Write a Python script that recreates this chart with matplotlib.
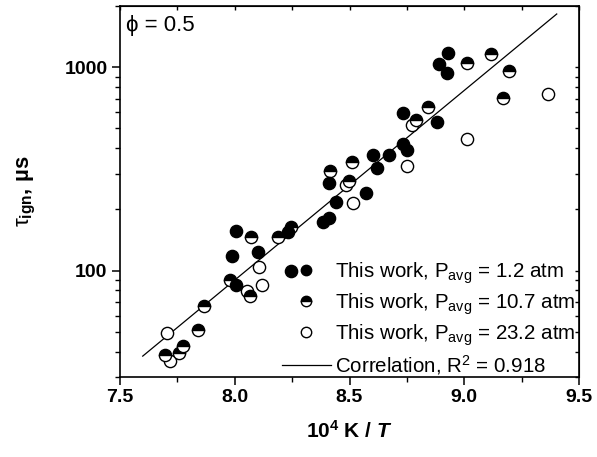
import matplotlib
matplotlib.use("Agg")
import matplotlib.pyplot as plt
from matplotlib.ticker import MultipleLocator, LogLocator, NullFormatter
from matplotlib.lines import Line2D

plt.rcParams["font.family"] = ["Liberation Sans", "DejaVu Sans"]
plt.rcParams["mathtext.fontset"] = "custom"
plt.rcParams["mathtext.rm"] = "Liberation Sans"
plt.rcParams["mathtext.it"] = "Liberation Sans:italic"
plt.rcParams["mathtext.bf"] = "Liberation Sans:bold"
plt.rcParams["mathtext.bfit"] = "Liberation Sans:bold:italic"

# ignition delay data, 10^4 K / T vs tau_ign (us)
x_p1 = [8.930, 8.890, 8.924, 8.734, 8.883, 8.734, 8.749, 8.673, 8.604, 8.621, 8.412,
        8.572, 8.441, 8.385, 8.411, 8.230, 8.005, 7.988, 8.103, 8.245, 8.007]
t_p1 = [1171, 1038, 934, 599, 539, 420, 393, 370, 371, 319, 270,
        241, 218, 174, 181, 155, 156, 118.5, 123, 100, 85.4]

x_p10 = [9.011, 9.118, 9.194, 9.168, 8.843, 8.790, 8.510, 8.415, 8.496, 8.245,
         8.190, 8.071, 7.979, 8.066, 7.867, 7.841, 7.776, 7.758, 7.696]
t_p10 = [1053, 1162, 956, 707, 641, 551, 344, 310, 277, 164,
         146, 146, 89.6, 74.8, 67.3, 50.9, 42.5, 39.3, 38.3]

x_p23 = [9.366, 9.011, 8.749, 8.771, 8.485, 8.517, 8.106, 8.117, 8.052, 7.703, 7.718]
t_p23 = [739, 443, 328, 521, 264, 216, 104, 84.9, 79.1, 49.1, 35.9]

# correlation line end points
x_fit = [7.599, 9.403]
t_fit = [38.0, 1827]

labels = ["This work, P$_{\\mathregular{avg}}$ = 1.2 atm",
          "This work, P$_{\\mathregular{avg}}$ = 10.7 atm",
          "This work, P$_{\\mathregular{avg}}$ = 23.2 atm",
          "Correlation, R$^{\\mathregular{2}}$ = 0.918"]

fig = plt.figure(figsize=(5.97, 4.57), dpi=100)
ax = fig.add_axes([120 / 597, 80 / 457, 459 / 597, 371 / 457])

ms = 8.8
ax.plot(x_fit, t_fit, color="black", lw=0.9, zorder=2)
ax.plot(x_p23, t_p23, ls="none", marker="o", ms=ms, mfc="white", mec="black", mew=1.0, zorder=3)
ax.plot(x_p10, t_p10, ls="none", marker="o", ms=ms, fillstyle="top", mfc="black",
        markerfacecoloralt="white", mec="black", mew=1.0, zorder=3)
ax.plot(x_p1, t_p1, ls="none", marker="o", ms=ms, mfc="black", mec="black", mew=1.0, zorder=3)

ax.set_yscale("log")
ax.set_xlim(7.5, 9.5)
ax.set_ylim(30, 2000)
ax.xaxis.set_major_locator(MultipleLocator(0.5))
ax.xaxis.set_minor_locator(MultipleLocator(0.25))
ax.xaxis.set_major_formatter(matplotlib.ticker.FormatStrFormatter("%.1f"))
ax.yaxis.set_major_locator(LogLocator(base=10, numticks=10))
ax.yaxis.set_minor_locator(LogLocator(base=10, subs=range(2, 10), numticks=20))
ax.yaxis.set_minor_formatter(NullFormatter())
ax.yaxis.set_major_formatter(matplotlib.ticker.FuncFormatter(lambda v, p: f"{v:.0f}"))

for s in ax.spines.values():
    s.set_linewidth(1.2)
ax.tick_params(which="major", direction="out", length=6, width=1.1, labelsize=14, pad=3)
ax.tick_params(which="minor", direction="out", length=3.5, width=1.0)
for lab in ax.get_xticklabels() + ax.get_yticklabels():
    lab.set_fontweight("bold")

top = ax.secondary_xaxis("top")
top.xaxis.set_major_locator(MultipleLocator(0.25))
top.tick_params(which="both", direction="in", length=3, width=1.0, labeltop=False)
right = ax.secondary_yaxis("right")
right.yaxis.set_major_locator(LogLocator(base=10, numticks=10))
right.yaxis.set_minor_locator(LogLocator(base=10, subs=range(2, 10), numticks=20))
right.tick_params(which="both", direction="in", length=3, width=1.0, labelright=False)

ax.set_xlabel("10$^{\\mathbf{4}}$ K / $\\mathbfit{T}$", fontsize=15, fontweight="bold", labelpad=10)
ax.set_ylabel("$\\mathrm{\\tau}_{\\mathbf{ign}}$, \u00b5s", fontsize=16, fontweight="bold", labelpad=19)

ax.text(0.012, 0.975, "\u03d5 = 0.5", transform=ax.transAxes, fontsize=16, va="top", ha="left")

handles = [
    Line2D([], [], ls="none", marker="o", ms=ms, mfc="black", mec="black"),
    Line2D([], [], ls="none", marker="o", ms=ms, fillstyle="top", mfc="black",
           markerfacecoloralt="white", mec="black"),
    Line2D([], [], ls="none", marker="o", ms=ms, mfc="white", mec="black"),
    Line2D([], [], color="black", lw=0.9),
]
ax.legend(handles, labels, loc="upper left", bbox_to_anchor=(0.352, 0.315), frameon=False,
          fontsize=14.8, handlelength=2.4, handletextpad=0.2, markerscale=0.85,
          borderpad=0, borderaxespad=0, labelspacing=0.27)

fig.savefig("out.png", dpi=100)
